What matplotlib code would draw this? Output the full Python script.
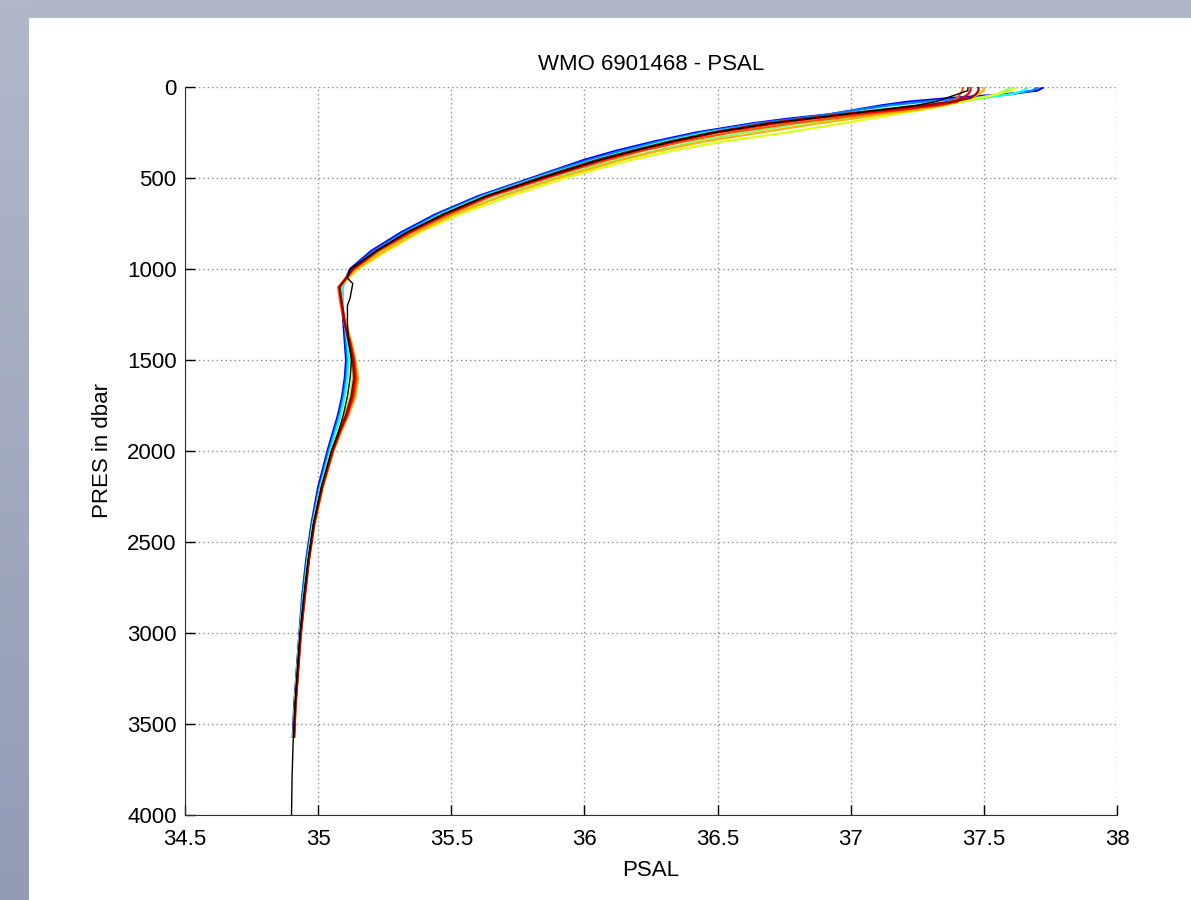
import numpy as np
import matplotlib
matplotlib.use("Agg")
import matplotlib.pyplot as plt
from matplotlib.patches import Rectangle

# pressure levels (dbar) shared by the coloured profiles
pres = [5, 20, 40, 60, 80, 100, 125, 150, 175, 200,
        250, 300, 350, 400, 450, 500, 600, 700, 800, 900,
        1000, 1100, 1200, 1300, 1400, 1500, 1600, 1700, 1800, 1900,
        2000, 2200, 2400, 2600, 2800, 3000, 3200, 3400, 3570]

# salinity profiles, earliest (blue) to latest (dark red)
psal_p1 = [37.72, 37.70, 37.58, 37.38, 37.22, 37.12, 37.02, 36.92, 36.76, 36.63,
           36.42, 36.26, 36.12, 36.00, 35.90, 35.80, 35.60, 35.44, 35.31, 35.20,
           35.12, 35.09, 35.09, 35.095, 35.10, 35.105, 35.10, 35.09, 35.075, 35.055,
           35.035, 35.00, 34.975, 34.955, 34.94, 34.93, 34.92, 34.91, 34.905]
psal_p2 = [37.70, 37.68, 37.60, 37.45, 37.28, 37.15, 37.03, 36.92, 36.79, 36.65,
           36.44, 36.28, 36.14, 36.02, 35.91, 35.81, 35.61, 35.45, 35.32, 35.21,
           35.125, 35.09, 35.09, 35.10, 35.105, 35.11, 35.105, 35.095, 35.08, 35.06,
           35.04, 35.005, 34.978, 34.958, 34.942, 34.93, 34.92, 34.912, 34.907]
psal_p3 = [37.66, 37.65, 37.60, 37.50, 37.38, 37.25, 37.10, 36.96, 36.83, 36.68,
           36.46, 36.30, 36.17, 36.04, 35.93, 35.82, 35.62, 35.46, 35.33, 35.22,
           35.13, 35.09, 35.09, 35.10, 35.11, 35.115, 35.11, 35.10, 35.085, 35.065,
           35.045, 35.008, 34.98, 34.96, 34.945, 34.932, 34.922, 34.913, 34.908]
psal_p4 = [37.60, 37.58, 37.55, 37.50, 37.42, 37.32, 37.20, 37.08, 36.95, 36.82,
           36.60, 36.42, 36.27, 36.12, 36.00, 35.89, 35.68, 35.50, 35.36, 35.24,
           35.14, 35.08, 35.09, 35.10, 35.115, 35.125, 35.13, 35.12, 35.10, 35.075,
           35.05, 35.012, 34.982, 34.962, 34.947, 34.933, 34.923, 34.914, 34.909]
psal_p5 = [37.62, 37.60, 37.55, 37.48, 37.42, 37.36, 37.27, 37.17, 37.07, 36.97,
           36.76, 36.52, 36.33, 36.18, 36.05, 35.93, 35.72, 35.53, 35.38, 35.26,
           35.15, 35.08, 35.09, 35.10, 35.12, 35.13, 35.15, 35.14, 35.11, 35.08,
           35.05, 35.013, 34.983, 34.963, 34.948, 34.933, 34.923, 34.913, 34.908]
psal_p6 = [37.50, 37.50, 37.48, 37.45, 37.40, 37.35, 37.25, 37.12, 37.00, 36.88,
           36.66, 36.45, 36.28, 36.14, 36.02, 35.90, 35.69, 35.51, 35.37, 35.25,
           35.145, 35.08, 35.09, 35.105, 35.125, 35.14, 35.15, 35.14, 35.115, 35.085,
           35.058, 35.018, 34.987, 34.966, 34.95, 34.936, 34.925, 34.916, 34.91]
psal_p7 = [37.42, 37.42, 37.41, 37.40, 37.38, 37.30, 37.20, 37.06, 36.92, 36.78,
           36.55, 36.37, 36.22, 36.09, 35.97, 35.86, 35.65, 35.49, 35.35, 35.23,
           35.135, 35.075, 35.085, 35.10, 35.12, 35.135, 35.145, 35.135, 35.11, 35.082,
           35.056, 35.016, 34.986, 34.965, 34.95, 34.935, 34.925, 34.915, 34.91]
psal_p8 = [37.45, 37.45, 37.44, 37.42, 37.40, 37.33, 37.18, 37.00, 36.85, 36.72,
           36.50, 36.34, 36.20, 36.07, 35.96, 35.85, 35.64, 35.48, 35.34, 35.22,
           35.13, 35.08, 35.09, 35.10, 35.12, 35.135, 35.14, 35.13, 35.11, 35.08,
           35.055, 35.015, 34.985, 34.965, 34.95, 34.935, 34.925, 34.915, 34.91]
psal_p9 = [37.48, 37.48, 37.47, 37.45, 37.38, 37.28, 37.12, 36.96, 36.82, 36.68,
           36.48, 36.32, 36.18, 36.05, 35.94, 35.83, 35.63, 35.47, 35.335, 35.22,
           35.13, 35.08, 35.09, 35.10, 35.115, 35.13, 35.135, 35.125, 35.105, 35.078,
           35.052, 35.013, 34.984, 34.964, 34.948, 34.934, 34.924, 34.914, 34.909]
profiles = [psal_p1, psal_p2, psal_p3, psal_p4, psal_p5, psal_p6, psal_p7, psal_p8, psal_p9]
jet_pos = [0.12, 0.25, 0.38, 0.50, 0.62, 0.72, 0.82, 0.90, 0.97]

# the one deep profile drawn in black
pres_black = [5, 20, 40, 60, 80, 100, 125, 150, 175, 200,
              250, 300, 350, 400, 450, 500, 600, 700, 800, 900,
              1000, 1050, 1080, 1120, 1160, 1200, 1300, 1400, 1500, 1600,
              1700, 1800, 1900, 2000, 2200, 2400, 2600, 2800, 3000, 3200,
              3400, 3600, 3800, 4000]
psal_black = [37.44, 37.44, 37.40, 37.36, 37.32, 37.25, 37.12, 36.98, 36.84, 36.70,
              36.49, 36.33, 36.19, 36.06, 35.95, 35.84, 35.63, 35.47, 35.33, 35.22,
              35.12, 35.11, 35.13, 35.125, 35.12, 35.11, 35.11, 35.115, 35.125, 35.12,
              35.11, 35.095, 35.075, 35.05, 35.012, 34.982, 34.962, 34.946, 34.932, 34.922,
              34.913, 34.906, 34.902, 34.90]

plt.rcParams['font.family'] = ['Liberation Sans', 'DejaVu Sans']

fig = plt.figure(figsize=(11.91, 9.0), dpi=100, facecolor='white')

# grey-blue border on the top and left
fig.patches.append(Rectangle((0, 1 - 18 / 900), 1, 18 / 900, transform=fig.transFigure,
                             facecolor='#b0b7c8', edgecolor='none', zorder=-10))
side = fig.add_axes([0, 0, 29 / 1191, 1])
grad = np.linspace(0, 1, 256).reshape(-1, 1)
side.imshow(grad, aspect='auto', extent=[0, 1, 0, 1], origin='upper',
            cmap=matplotlib.colors.LinearSegmentedColormap.from_list('b', ['#b1b8c9', '#939bb7']))
side.axis('off')

ax = fig.add_axes([185 / 1191, 1 - 815 / 900, (1117 - 185) / 1191, (815 - 87) / 900])

for sal, pos in zip(profiles, jet_pos):
    ax.plot(sal, pres, color=plt.cm.jet(pos), lw=1.6)
ax.plot(psal_black, pres_black, color='black', lw=1.0)

ax.set_xlim(34.5, 38)
ax.set_ylim(4000, 0)
ax.set_xticks([34.5, 35, 35.5, 36, 36.5, 37, 37.5, 38])
ax.set_xticklabels(['34.5', '35', '35.5', '36', '36.5', '37', '37.5', '38'])
ax.set_yticks([0, 500, 1000, 1500, 2000, 2500, 3000, 3500, 4000])

ax.grid(True, color='#8c8c8c', linestyle=(0, (1, 2.2)), lw=1.0)
ax.spines['top'].set_visible(False)
ax.spines['right'].set_visible(False)
for s in ['left', 'bottom']:
    ax.spines[s].set_color('#303030')
ax.tick_params(direction='in', length=7, width=1, labelsize=16,
               top=False, right=False)
ax.tick_params(axis='x', pad=10)
ax.tick_params(axis='y', pad=6)

ax.set_title('WMO 6901468 - PSAL', fontsize=16, pad=12)
ax.set_xlabel('PSAL', fontsize=16, labelpad=7)
ax.set_ylabel('PRES in dbar', fontsize=16, labelpad=10)

fig.savefig('out.png', dpi=100, facecolor='white')
